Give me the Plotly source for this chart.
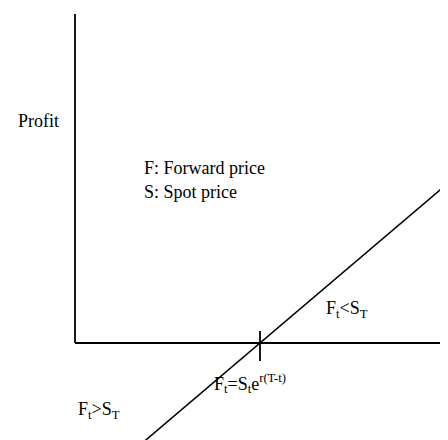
import plotly.graph_objects as go

# ---- data ----
forward_price = 50.0                  # F_t : where the payoff crosses zero
spot_prices = [18.0, 101.5]           # S_T at the ends of the payoff line
profit = [s - forward_price for s in spot_prices]   # long forward payoff
s_axis_max = 102.2
profit_axis_max = 104.6
tick_half_up, tick_half_down = 3.8, -5.7

FONT = "Liberation Serif"
W, H = 448, 440

fig = go.Figure()

# axes drawn as lines
fig.add_trace(go.Scatter(x=[0, 0], y=[profit_axis_max, 0], mode="lines",
                         line=dict(color="black", width=1.8), hoverinfo="skip"))
fig.add_trace(go.Scatter(x=[0, s_axis_max], y=[0, 0], mode="lines",
                         line=dict(color="black", width=1.8), hoverinfo="skip"))
# tick at F
fig.add_trace(go.Scatter(x=[forward_price, forward_price], y=[tick_half_up, tick_half_down],
                         mode="lines", line=dict(color="black", width=1.8), hoverinfo="skip"))
# payoff line
fig.add_trace(go.Scatter(x=spot_prices, y=profit, mode="lines",
                         line=dict(color="black", width=1.4), hoverinfo="skip"))

def ann(x, y, text, size=18):
    fig.add_annotation(x=x, y=y, xref="paper", yref="paper", text=text, showarrow=False,
                       xanchor="left", yanchor="middle", borderpad=0,
                       font=dict(family=FONT, size=size, color="black"))

def px(xp, yp):
    return xp / W, 1 - yp / H

ann(*px(9, 113), "Profit")
ann(*px(135, 160), "F: Forward price")
ann(*px(135, 184), "S: Spot price")
ann(*px(317, 301), "F<sub>t</sub>&lt;S<sub>T</sub>")
ann(*px(205, 375), "F<sub>t</sub>=S<sub>t</sub>e<sup>r(T-t)</sup>")
ann(*px(69, 402), "F<sub>t</sub>&gt;S<sub>T</sub>")
ann(*px(438, 353), "S")

fig.update_layout(
    width=W, height=H, margin=dict(l=0, r=0, t=0, b=0),
    paper_bgcolor="white", plot_bgcolor="white", showlegend=False,
    xaxis=dict(range=[-67 / 3.7, (W - 67) / 3.7], visible=False, fixedrange=True),
    yaxis=dict(range=[-(H - 335) / 3.145, 335 / 3.145], visible=False, fixedrange=True),
)
fig.write_html("out.html", config={"displayModeBar": False})
